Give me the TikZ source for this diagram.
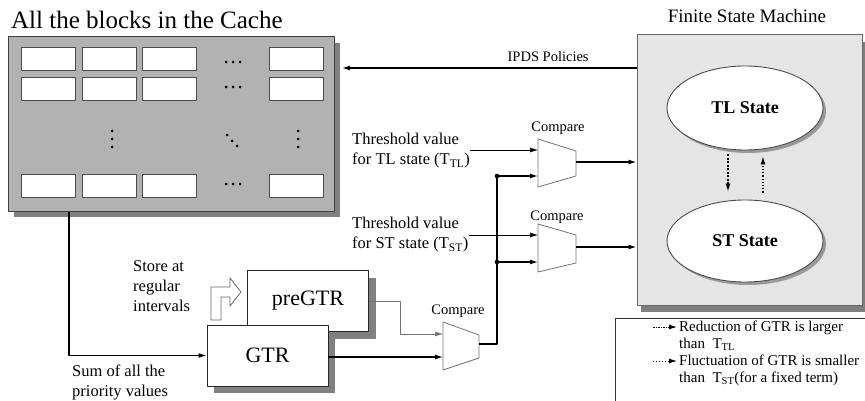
\documentclass[tikz,border=0pt]{standalone}
\usepackage{fontspec}
\setmainfont{Liberation Serif}
\usetikzlibrary{arrows.meta,shapes.geometric,shadows}
\tikzset{
  cachebox/.style={draw=black!75, fill=black!30, line width=1pt, minimum width=326pt, minimum height=174pt, inner sep=0pt,
    drop shadow={shadow xshift=6pt, shadow yshift=-6pt, fill=black!50, opacity=1}},
  cell/.style={draw=black!70, fill=white, line width=1pt, minimum width=54pt, minimum height=23pt, inner sep=0pt},
  regbox/.style={draw=black!85, fill=white, line width=0.9pt, minimum width=121pt, minimum height=61pt, inner sep=0pt,
    font=\fontsize{22}{24}\selectfont, drop shadow={shadow xshift=7pt, shadow yshift=-7pt, fill=black!50, opacity=1}},
  fsmbox/.style={draw=black!60, fill=black!10, line width=1pt, minimum width=225pt, minimum height=270pt, inner sep=0pt,
    drop shadow={shadow xshift=4pt, shadow yshift=-7pt, fill=black!50, opacity=1}},
  fsmstate/.style={ellipse, draw=black!70, fill=white, line width=0.9pt, minimum width=156pt, minimum height=84pt, inner sep=0pt,
    font=\fontsize{18}{20}\selectfont\bfseries, drop shadow={shadow xshift=3pt, shadow yshift=-3pt, fill=black!40, opacity=1}},
  cmp/.style={draw=black!55, fill=white, line width=0.8pt},
  wire/.style={line width=1.2pt},
  thinwire/.style={line width=0.6pt},
  cmplabel/.style={font=\fontsize{14.5}{16}\selectfont, anchor=base, inner sep=0pt},
  sidetext/.style={align=left, anchor=west, inner sep=0pt, font=\fontsize{16.5}{20}\selectfont},
  legtext/.style={align=left, anchor=west, inner sep=0pt, font=\fontsize{15}{17}\selectfont},
}
\begin{document}
\begin{tikzpicture}[x=1pt, y=-1pt, line join=round, >={Latex[length=8pt,width=5pt]}]
\useasboundingbox (0,0) rectangle (865,401);

\node[anchor=base west, inner sep=0pt, font=\fontsize{25}{27}\selectfont] (cachetitle) at (11,29) {All the blocks in the Cache};
\node[cachebox] (cache) at (171,124) {};
\foreach \x [count=\i] in {48,109,169,296}
  \foreach \y [count=\j] in {59.5,89.5,186}
    \node[cell] (cell\i\j) at (\x,\y) {};
\foreach \y in {62,87,184}
  \foreach \x in {226,233,240}
    \fill (\x,\y) circle (1.5);
\foreach \x in {112,298}
  \foreach \y in {131,139,147}
    \fill (\x,\y) circle (1.5);
\foreach \x/\y in {227/135,232/141,237/146}
  \fill (\x,\y) circle (1.5);

\node[anchor=base, inner sep=0pt, font=\fontsize{19}{21}\selectfont] (fsmtitle) at (747,23) {Finite State Machine};
\node[fsmbox] (fsm) at (749.5,170) {};
\node[fsmstate] (TL) at (745,108) {TL State};
\node[fsmstate, minimum height=82pt] (ST) at (745,241) {ST State};
\draw[wire, dashed, dash pattern=on 2pt off 1.5pt, ->, shorten <=4pt, shorten >=8pt] ([xshift=-17pt]TL.south) -- ([xshift=-17pt]ST.north);
\draw[wire, dotted, ->, shorten <=7pt, shorten >=6pt] ([xshift=18pt]ST.north) -- ([xshift=18pt]TL.south);

\coordinate (ipds) at (342,68);
\draw[wire, ->] (fsm.west |- ipds) -- (ipds) node[pos=0.3, above=6pt, inner sep=0pt, font=\fontsize{14.5}{16}\selectfont] (ipdstext) {IPDS Policies};

\node[regbox] (preGTR) at (308,301) {preGTR};
\node[regbox] (GTR) at (267.5,355.5) {GTR};
\draw[black!60, fill=white, line width=0.8pt] (211,320) -- (211,287) -- (230,287) -- (230,278) -- (241,292) -- (230,306) -- (230,297) -- (221,297) -- (221,320) -- cycle;
\node[sidetext] (storetext) at (133,286) {Store at\\regular\\intervals};
\node[sidetext] (sumtext) at (72,382) {Sum of all the\\priority values};
\coordinate (sum) at (69,0);
\draw[wire, ->] (cache.south -| sum) |- (GTR.west);

\draw[cmp] (443,322) -- (479,335) -- (479,358) -- (443,370) -- cycle;
\coordinate (cmpC-in1) at (443,334);
\coordinate (cmpC-in2) at (443,357);
\coordinate (cmpC-out) at (479,344);
\node[cmplabel] (cmpC) at (458,314) {Compare};
\draw[cmp] (538,139) -- (576,151) -- (576,176) -- (538,187) -- cycle;
\coordinate (cmpA-in1) at (538,150);
\coordinate (cmpA-in2) at (538,176);
\coordinate (cmpA-out) at (576,162);
\node[cmplabel] (cmpA) at (558,132) {Compare};
\draw[cmp] (538,224) -- (576,235) -- (576,263) -- (538,272) -- cycle;
\coordinate (cmpB-in1) at (538,235);
\coordinate (cmpB-in2) at (538,262);
\coordinate (cmpB-out) at (576,247);
\node[cmplabel] (cmpB) at (557,220) {Compare};

\node[sidetext] (thTL) at (352,150.5) {Threshold value\\for TL state (T\textsubscript{TL})};
\node[sidetext] (thST) at (352,235) {Threshold value\\for ST state (T\textsubscript{ST})};
\draw[thinwire, ->] (thTL.east |- cmpA-in1) -- (cmpA-in1);
\draw[thinwire, ->] (thST.east |- cmpB-in1) -- (cmpB-in1);

\coordinate (jA) at (497,176);
\coordinate (jB) at (497,262);
\draw[wire] (cmpC-out) -| (jA);
\fill (jA) circle (2.3);
\fill (jB) circle (2.3);
\draw[wire, ->] (jA) -- (cmpA-in2);
\draw[wire, ->] (jB) -- (cmpB-in2);
\draw[thinwire, black!55, ->] (preGTR.east) -| (400,334) -- (cmpC-in1);
\draw[wire, ->] (GTR.east |- cmpC-in2) -- (cmpC-in2);
\draw[wire, ->] (cmpA-out) -- (fsm.west |- cmpA-out);
\draw[wire, ->] (cmpB-out) -- (fsm.west |- cmpB-out);

\draw[black!80, line width=1pt] (865,318) -- (615,318) -- (615,401);
\coordinate (legA) at (653,327);
\coordinate (legB) at (653,361);
\draw[line width=0.9pt, dash pattern=on 1.5pt off 1pt, ->] (legA) -- ++(24,0);
\draw[line width=0.9pt, dotted, ->] (legB) -- ++(24,0);
\node[legtext] (legtextA) at (679,335.5) {Reduction of GTR is larger\\than \ T\textsubscript{TL}};
\node[legtext] (legtextB) at (679,370.5) {Fluctuation of GTR is smaller\\than \ T\textsubscript{ST}(for a fixed term)};
\end{tikzpicture}
\end{document}
